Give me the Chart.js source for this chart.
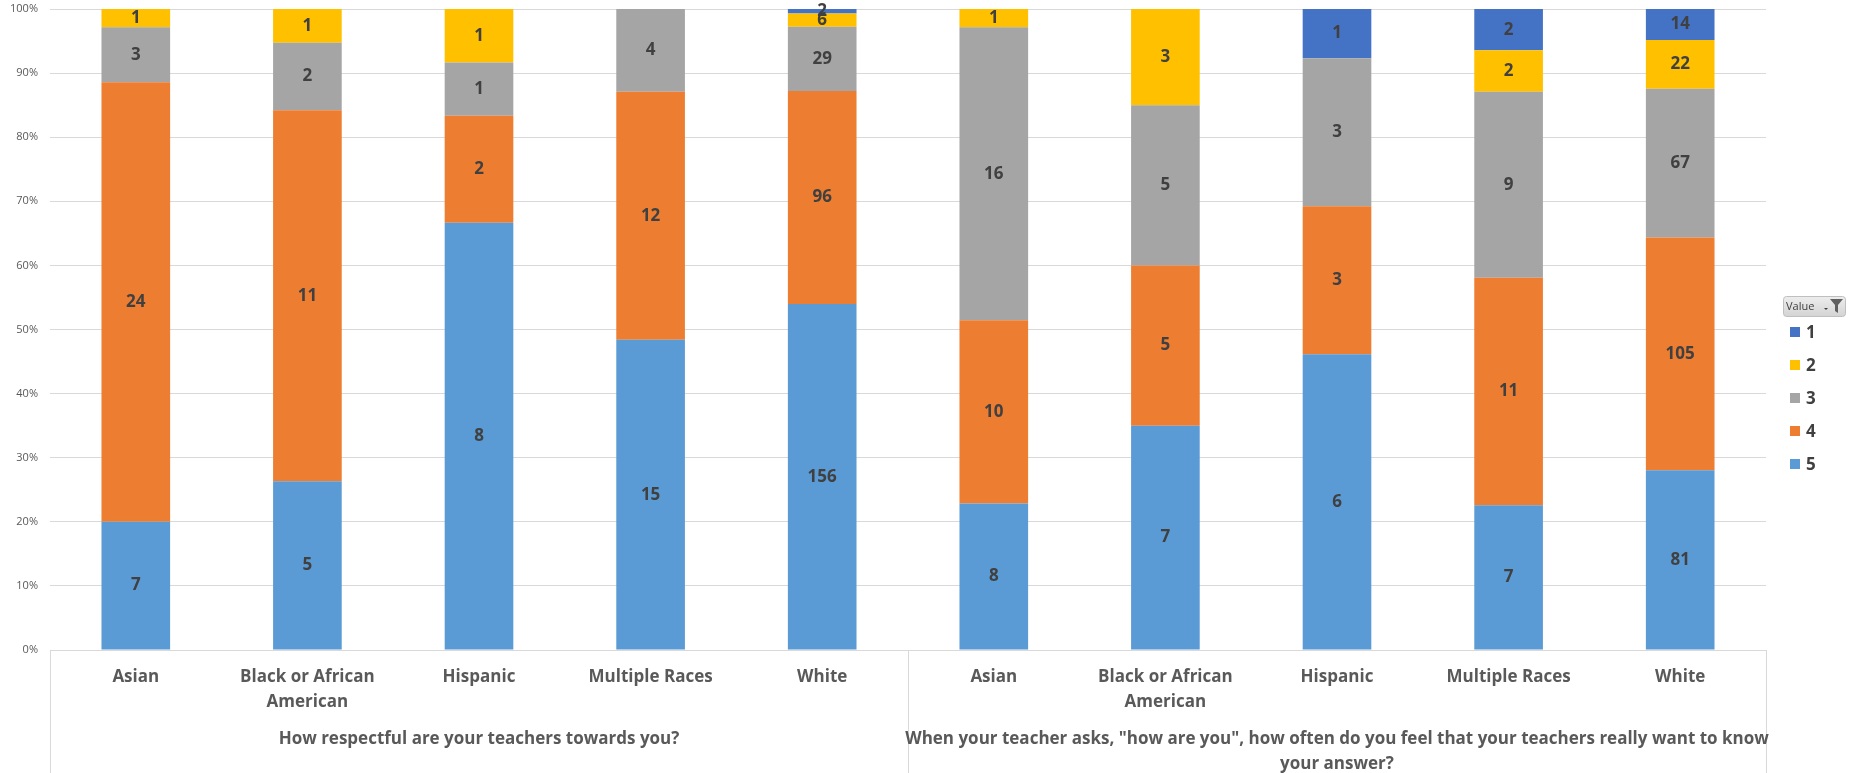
<!DOCTYPE html>
<html>
<head>
<meta charset="utf-8">
<script src="https://cdn.jsdelivr.net/npm/chart.js@4"></script>
<style>
  html, body { margin: 0; padding: 0; background: #fff; }
  #wrap { width: 1853px; height: 773px; }
</style>
</head>
<body>
<div id="wrap"><canvas id="surveyChart" width="1853" height="773"></canvas></div>
<script>
// categories and groups
const races = ['Asian', 'Black or African American', 'Hispanic', 'Multiple Races', 'White'];
const questions = [
  'How respectful are your teachers towards you?',
  'When your teacher asks, "how are you", how often do you feel that your teachers really want to know your answer?'
];
const categories = questions.flatMap(() => races);

// response counts per answer value (1..5), one entry per category
const value1 = [0, 0, 0, 0, 2, 0, 0, 1, 2, 14];
const value2 = [1, 1, 1, 0, 6, 1, 3, 0, 2, 22];
const value3 = [3, 2, 1, 4, 29, 16, 5, 3, 9, 67];
const value4 = [24, 11, 2, 12, 96, 10, 5, 3, 11, 105];
const value5 = [7, 5, 8, 15, 156, 8, 7, 6, 7, 81];

const yTicks = [0, 10, 20, 30, 40, 50, 60, 70, 80, 90, 100];

const colors = { 1: '#4472C4', 2: '#FFC000', 3: '#A5A5A5', 4: '#ED7D31', 5: '#5B9BD5' };
const FONT = '"Open Sans", "Liberation Sans", sans-serif';

const totals = categories.map((c, i) => value1[i] + value2[i] + value3[i] + value4[i] + value5[i]);
const pct = arr => arr.map((v, i) => v / totals[i] * 100);

// stacked bottom-up: 5, 4, 3, 2, 1
const series = [
  { label: '5', counts: value5 },
  { label: '4', counts: value4 },
  { label: '3', counts: value3 },
  { label: '2', counts: value2 },
  { label: '1', counts: value1 }
];

function wrapText(ctx, text, maxW) {
  const words = text.split(' ');
  const lines = [];
  let line = '';
  words.forEach(w => {
    const test = line ? line + ' ' + w : w;
    if (ctx.measureText(test).width > maxW && line) {
      lines.push(line);
      line = w;
    } else {
      line = test;
    }
  });
  if (line) lines.push(line);
  return lines;
}

// count labels in the middle of each segment
const segmentLabels = {
  id: 'segmentLabels',
  afterDatasetsDraw(chart) {
    const ctx = chart.ctx;
    ctx.save();
    ctx.font = 'bold 17px ' + FONT;
    ctx.fillStyle = '#404040';
    ctx.textAlign = 'center';
    ctx.textBaseline = 'middle';
    chart.data.datasets.forEach((ds, di) => {
      chart.getDatasetMeta(di).data.forEach((bar, i) => {
        const n = ds.counts[i];
        if (!n) return;
        ctx.fillText(String(n), bar.x, (bar.y + bar.base) / 2);
      });
    });
    ctx.restore();
  }
};

// two-level category axis drawn under the plot
const groupAxis = {
  id: 'groupAxis',
  afterDraw(chart) {
    const ctx = chart.ctx;
    const xs = chart.scales.x;
    const area = chart.chartArea;
    const per = races.length;
    const step = (area.right - area.left) / categories.length;
    ctx.save();
    ctx.strokeStyle = '#D9D9D9';
    ctx.lineWidth = 1;
    // verticals
    for (let g = 0; g <= questions.length; g++) {
      const x = Math.round(area.left + g * per * step) + 0.5;
      ctx.beginPath();
      ctx.moveTo(x, area.bottom);
      ctx.lineTo(x, chart.height);
      ctx.stroke();
    }
    ctx.fillStyle = '#595959';
    ctx.textAlign = 'center';
    ctx.textBaseline = 'middle';
    ctx.font = 'bold 17px ' + FONT;
    categories.forEach((c, i) => {
      const x = xs.getPixelForValue(i);
      wrapText(ctx, c, step - 10).forEach((ln, k) => {
        ctx.fillText(ln, x, area.bottom + 27 + k * 25);
      });
    });
    questions.forEach((q, g) => {
      const x0 = area.left + g * per * step;
      const x = x0 + per * step / 2;
      wrapText(ctx, q, per * step + 12).forEach((ln, k) => {
        ctx.fillText(ln, x, area.bottom + 89 + k * 25);
      });
    });
    ctx.restore();
  }
};

// legend with the "Value" filter button
const valueLegend = {
  id: 'valueLegend',
  afterDraw(chart) {
    const ctx = chart.ctx;
    ctx.save();
    // button
    const bx = 1783, by = 296, bw = 62, bh = 20;
    const grad = ctx.createLinearGradient(0, by, 0, by + bh);
    grad.addColorStop(0, '#EEEEEE');
    grad.addColorStop(1, '#D4D4D4');
    ctx.fillStyle = grad;
    ctx.strokeStyle = '#BFBFBF';
    ctx.beginPath();
    ctx.roundRect(bx + 0.5, by + 0.5, bw, bh, 3);
    ctx.fill();
    ctx.stroke();
    ctx.fillStyle = '#404040';
    ctx.font = '11px ' + FONT;
    ctx.textAlign = 'left';
    ctx.textBaseline = 'middle';
    ctx.fillText('Value', bx + 3, by + bh / 2 + 1);
    // small arrow
    ctx.beginPath();
    ctx.moveTo(bx + 41, by + 12);
    ctx.lineTo(bx + 45, by + 12);
    ctx.lineTo(bx + 43, by + 14);
    ctx.closePath();
    ctx.fill();
    // funnel
    ctx.fillStyle = '#606060';
    ctx.beginPath();
    ctx.moveTo(bx + 47, by + 3);
    ctx.lineTo(bx + 60, by + 3);
    ctx.lineTo(bx + 55, by + 9);
    ctx.lineTo(bx + 55, by + 17);
    ctx.lineTo(bx + 52, by + 15);
    ctx.lineTo(bx + 52, by + 9);
    ctx.closePath();
    ctx.fill();
    // items, 1 on top
    ctx.font = 'bold 17px ' + FONT;
    const items = chart.data.datasets.slice().reverse();
    items.forEach((ds, k) => {
      const y = 332 + k * 33;
      ctx.fillStyle = ds.backgroundColor;
      ctx.fillRect(1790, y - 5, 10, 10);
      ctx.fillStyle = '#404040';
      ctx.fillText(ds.label, 1806, y + 1);
    });
    ctx.restore();
  }
};

new Chart(document.getElementById('surveyChart').getContext('2d'), {
  type: 'bar',
  data: {
    labels: categories,
    datasets: series.map(s => ({
      label: s.label,
      data: pct(s.counts),
      counts: s.counts,
      backgroundColor: colors[s.label],
      borderWidth: 0,
      barPercentage: 0.4,
      categoryPercentage: 1.0
    }))
  },
  options: {
    responsive: false,
    animation: false,
    layout: { padding: { top: 9, right: 87, bottom: 115, left: 0 } },
    plugins: {
      legend: { display: false },
      tooltip: { enabled: false }
    },
    scales: {
      x: {
        stacked: true,
        grid: { display: false },
        border: { display: true, color: '#D9D9D9' },
        ticks: { display: false }
      },
      y: {
        stacked: true,
        min: 0,
        max: 100,
        afterFit: s => { s.width = 50; s.paddingTop = 0; s.paddingBottom = 0; },
        afterBuildTicks: s => { s.ticks = yTicks.map(v => ({ value: v })); },
        grid: { color: '#D9D9D9', drawTicks: false },
        border: { display: false },
        ticks: {
          padding: 12,
          color: '#595959',
          font: { family: FONT, size: 11 },
          callback: v => v + '%'
        }
      }
    }
  },
  plugins: [segmentLabels, groupAxis, valueLegend]
});
</script>
</body>
</html>
